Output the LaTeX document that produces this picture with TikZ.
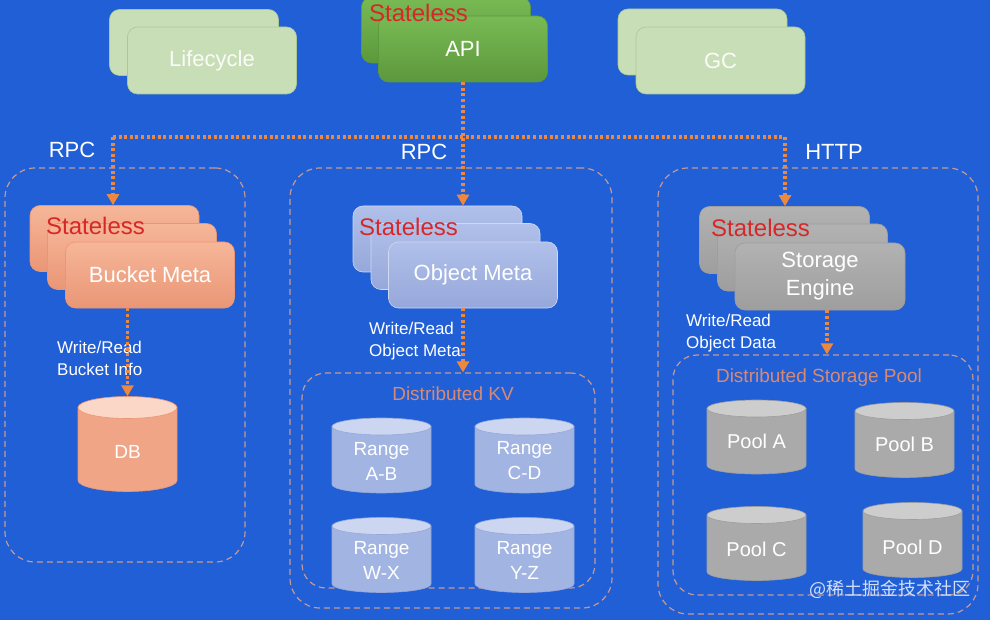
\documentclass[tikz,border=0pt]{standalone}
\usepackage{fontspec}
\setmainfont{Liberation Sans}
\newfontfamily\cjk{Noto Sans CJK SC}
\usetikzlibrary{arrows.meta}
\definecolor{bg}{RGB}{33,95,214}
\definecolor{lgreen}{RGB}{200,222,182}
\definecolor{lgreenline}{RGB}{170,200,150}
\definecolor{apigreentop}{RGB}{120,186,84}
\definecolor{apigreenbot}{RGB}{92,152,60}
\definecolor{salmon}{RGB}{240,165,135}
\definecolor{salmontop}{RGB}{246,182,152}
\definecolor{salmonbot}{RGB}{234,150,118}
\definecolor{steel}{RGB}{162,180,226}
\definecolor{steeltop}{RGB}{176,192,234}
\definecolor{steelbot}{RGB}{150,168,218}
\definecolor{grayfill}{RGB}{170,170,170}
\definecolor{graytop}{RGB}{178,178,178}
\definecolor{graybot}{RGB}{158,158,158}
\definecolor{conn}{RGB}{238,136,62}
\definecolor{panel}{RGB}{200,152,146}
\definecolor{ptitle}{RGB}{214,138,118}
\definecolor{stl}{RGB}{214,40,40}
% cylinder: #1 name, #2 cx, #3 cy, #4 height, #5 body colour, #6 top colour, #7 edge colour, #8 end radius
\newcommand\mycyl[8]{%
  \pgfmathsetmacro\cyltop{#3-#4/2+#8}%
  \pgfmathsetmacro\cylbot{#3+#4/2-#8}%
  \node[cylbox, minimum height=#4pt] (#1) at (#2,#3) {};
  \filldraw[fill=#5, draw=#7, line width=0.6pt] (#2-49.5,\cyltop) -- (#2-49.5,\cylbot)
     arc[start angle=180, end angle=360, x radius=49.5pt, y radius=#8pt] -- (#2+49.5,\cyltop) -- cycle;
  \filldraw[fill=#6, draw=#7, line width=0.6pt] (#2,\cyltop) ellipse[x radius=49.5pt, y radius=#8pt];
}
\begin{document}
\begin{tikzpicture}[x=1pt,y=-1pt,
  box/.style={rounded corners=10pt, minimum width=169pt, minimum height=66pt, inner sep=0pt,
    font=\fontsize{22}{28}\selectfont, text=white, align=center},
  lbox/.style={box, fill=lgreen, draw=lgreenline, line width=0.6pt, text=white!92!lgreen},
  abox/.style={box, top color=apigreentop, bottom color=apigreenbot, draw=apigreenbot, line width=0.6pt},
  sbox/.style={box, top color=salmontop, bottom color=salmonbot, draw=salmonbot, line width=0.6pt},
  obox/.style={box, top color=steeltop, bottom color=steelbot, draw=steeltop!60!white, line width=0.6pt},
  gbox/.style={box, top color=graytop, bottom color=graybot, draw=graybot, line width=0.6pt},
  stlabel/.style={anchor=west, inner sep=0pt, font=\fontsize{24}{28}\selectfont, text=stl},
  proto/.style={inner sep=0pt, font=\fontsize{22}{26}\selectfont, text=white},
  wrlabel/.style={anchor=west, inner sep=0pt, align=left, font=\fontsize{17}{22}\selectfont, text=white},
  panelbox/.style={draw=panel, line width=1.2pt, dash pattern=on 6pt off 4pt, rounded corners=30pt, inner sep=0pt},
  innerpanel/.style={panelbox, rounded corners=24pt},
  ptitlelabel/.style={inner sep=0pt, font=\fontsize{19}{22}\selectfont, text=ptitle},
  cylbox/.style={rectangle, minimum width=99pt, inner sep=0pt},
  cyltext/.style={inner sep=0pt, align=center, text=white, font=\fontsize{19}{25}\selectfont},
  pooltext/.style={cyltext, font=\fontsize{20}{25}\selectfont},
  dotconn/.style={draw=conn, line width=3.5pt, dash pattern=on 3pt off 2.6pt},
  arr/.style={dotconn, -{Triangle[width=12pt,length=11pt]}, shorten >=0pt}
]
\useasboundingbox (0,0) rectangle (990,620);
\fill[bg] (0,0) rectangle (990,620);

% top row
\node[lbox] (lc1) at (194,42.5) {};
\node[lbox, minimum height=67pt] (lc2) at (212,60.5) {Lifecycle};
\node[abox] (api1) at (446,30) {};
\node[abox] (api) at (463,49) {API};
\node[stlabel] (apist) at (369,13) {Stateless};
\node[lbox] (gc1) at (702.5,42) {};
\node[lbox, minimum height=67pt] (gc2) at (720.5,60.5) {GC};

% panels
\node[panelbox, minimum width=240pt, minimum height=394pt] (pl) at (125,365) {};
\node[panelbox, minimum width=322pt, minimum height=440pt] (pm) at (451,388) {};
\node[panelbox, minimum width=320pt, minimum height=446pt] (pr) at (818,391) {};
\node[innerpanel, minimum width=293pt, minimum height=215pt] (kv) at (448.5,480.5) {};
\node[innerpanel, minimum width=300pt, minimum height=240pt] (pool) at (823,475) {};
\node[ptitlelabel] (kvt) at (453,394) {Distributed KV};
\node[ptitlelabel] (poolt) at (819,378) {Distributed Storage Pool};

% protocol labels
\node[proto] (rpc1) at (72,150) {RPC};
\node[proto] (rpc2) at (424,152) {RPC};
\node[proto] (http) at (834,152) {HTTP};

% Bucket Meta stack
\node[sbox] (bm1) at (114.5,238.5) {};
\node[sbox] (bm2) at (132,256.5) {};
\node[sbox] (bm3) at (150,275) {Bucket Meta};
\node[stlabel] (bmst) at (46,226) {Stateless};

% Object Meta stack
\node[obox] (om1) at (437.5,239) {};
\node[obox] (om2) at (455.5,256.5) {};
\node[obox] (om3) at (473,275) {Object Meta};
\node[stlabel] (omst) at (359,227) {Stateless};

% Storage Engine stack
\node[gbox, minimum width=170pt, minimum height=67pt] (se1) at (784.5,240) {};
\node[gbox, minimum width=170pt, minimum height=67pt] (se2) at (802.5,257.5) {};
\node[gbox, minimum width=170pt, minimum height=67pt] (se3) at (820,276.5) {Storage\\Engine};
\node[stlabel] (sest) at (711,228) {Stateless};

% cylinders
\mycyl{db}{127.5}{444}{95}{salmon}{salmontop!55!white}{salmonbot}{11}
\node[cyltext] (dbt) at (127.5,452) {DB};
\mycyl{rab}{381.5}{455.5}{75}{steel}{steeltop!65!white}{steelbot}{8.5}
\node[cyltext] (rabt) at (381.5,461) {Range\\A-B};
\mycyl{rcd}{524.5}{455.5}{75}{steel}{steeltop!65!white}{steelbot}{8.5}
\node[cyltext] (rcdt) at (524.5,461) {Range\\C-D};
\mycyl{rwx}{381.5}{555}{75}{steel}{steeltop!65!white}{steelbot}{8.5}
\node[cyltext] (rwxt) at (381.5,560.5) {Range\\W-X};
\mycyl{rwyz}{524.5}{555}{75}{steel}{steeltop!65!white}{steelbot}{8.5}
\node[cyltext] (ryzt) at (524.5,560.5) {Range\\Y-Z};
\mycyl{pa}{756.5}{437}{74}{grayfill}{graytop!65!white}{graybot}{8.5}
\node[pooltext] (pat) at (756.5,441) {Pool A};
\mycyl{pb}{904.5}{440}{75}{grayfill}{graytop!65!white}{graybot}{8.5}
\node[pooltext] (pbt) at (904.5,444) {Pool B};
\mycyl{pc}{756.5}{543.5}{74}{grayfill}{graytop!65!white}{graybot}{8.5}
\node[pooltext] (pct) at (756.5,549) {Pool C};
\mycyl{pd}{912.5}{540}{75}{grayfill}{graytop!65!white}{graybot}{8.5}
\node[pooltext] (pdt) at (912.5,547) {Pool D};

% write/read labels
\node[wrlabel] (wr1) at (57,358) {Write/Read\\Bucket Info};
\node[wrlabel] (wr2) at (369,341) {Write/Read\\Object Meta};
\node[wrlabel] (wr3) at (686,333) {Write/Read\\Object Data};

% connectors
\coordinate (jL) at (113,137);
\coordinate (jR) at (785,137);
\draw[dotconn] (jL) -- (jR);
\draw[arr] (jL) -- (jL |- bm1.north);
\draw[arr] (jR) -- (jR |- se1.north);
\draw[arr] (api.south) -- (api.south |- om1.north);
\draw[arr] (db.north |- bm3.south) -- (db.north);
\draw[arr] (api.south |- om3.south) -- (api.south |- kv.north);
\draw[arr] ([xshift=7pt]se3.south) -- ([xshift=7pt]se3.south |- pool.north);

% watermark
\node[inner sep=0pt, text=white!80!bg, font=\cjk\fontsize{18}{20}\selectfont] (wm) at (890,589) {@稀土掘金技术社区};
\end{tikzpicture}
\end{document}
